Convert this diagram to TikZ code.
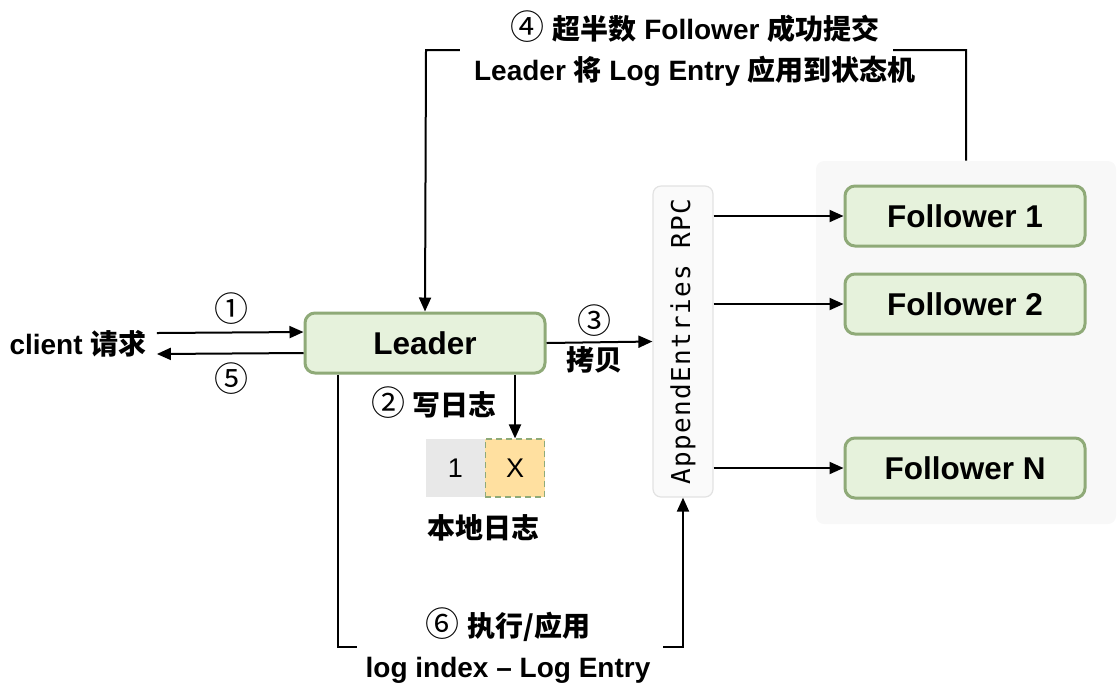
\documentclass[tikz,border=0pt]{standalone}
\usepackage{fontspec}
\usepackage{xcolor}
\usepackage{graphicx}
\usetikzlibrary{arrows.meta}
\setmainfont{Liberation Sans}
\newfontfamily\cjk{Noto Sans CJK SC}
\newfontfamily\codefont[LetterSpace=5]{DejaVu Sans Mono}
\newcommand{\circnum}[1]{{\cjk\mdseries\fontsize{17}{16}\selectfont #1}}

\definecolor{leafgreen}{HTML}{E6F2DC}
\definecolor{leafedge}{HTML}{8FAA78}
\definecolor{panelgray}{HTML}{F8F8F8}
\definecolor{rpcedge}{HTML}{E2E2E2}
\definecolor{rpcfill}{HTML}{FAFAFA}
\definecolor{cellgray}{HTML}{E8E8E8}
\definecolor{cellyellow}{HTML}{FFE0A0}

\tikzset{
  server/.style={draw=leafedge, fill=leafgreen, line width=1.5pt, rounded corners=5pt,
    minimum width=120pt, minimum height=30pt, inner sep=0pt,
    font=\fontsize{15.75}{18}\selectfont\bfseries},
  panel/.style={fill=panelgray, rounded corners=4pt, minimum width=150pt,
    minimum height=181.5pt, inner sep=0pt},
  rpcbox/.style={draw=rpcedge, fill=rpcfill, line width=0.6pt, rounded corners=4pt,
    minimum width=30pt, minimum height=155.5pt, inner sep=0pt},
  cell/.style={minimum width=29.75pt, minimum height=29pt, inner sep=0pt,
    font=\fontsize{13.5}{15}\selectfont},
  stepnote/.style={inner sep=1pt, font=\fontsize{14}{16}\selectfont\bfseries},
  twoline/.style={inner sep=0pt, align=center, font=\fontsize{14}{20.5}\selectfont\bfseries},
  msg/.style={-{Triangle[length=7pt,width=6pt]}, line width=1pt},
}

\begin{document}
\begin{tikzpicture}[x=0.5pt,y=-0.5pt]
\useasboundingbox (0,0) rectangle (1118,698);
% followers
\draw (966,342.5) node[panel](panel) {};
\draw (965,216) node[server](f1) {Follower 1};
\draw (965,304) node[server](f2) {Follower 2};
\draw (965,468) node[server](fn) {Follower N};
% leader and rpc
\draw (425,343) node[server](leader) {Leader};
\draw (683,341.5) node[rpcbox](rpc) {\rotatebox{90}{\codefont\fontsize{13}{15}\selectfont AppendEntries RPC}};
\draw (78,344) node[stepnote,inner sep=5pt](client) {client {\cjk 请求}};
% local log
\draw (455.5,468) node[cell,fill=cellgray](log1) {1};
\draw (515,468) node[cell,fill=cellyellow,draw=leafedge,densely dashed,line width=0.6pt](logx) {X};
\draw (483,528) node[stepnote](loglabel) {\cjk 本地日志};

\draw[msg] ([yshift=5.5pt]client.east) -- ([yshift=5.5pt]leader.west);
\draw[msg] ([yshift=-5pt]leader.west) -- ([yshift=-5pt]client.east);
\draw (231,309) node[stepnote](n1) {\circnum{①}};
\draw (231,379) node[stepnote](n5) {\circnum{⑤}};

\draw[msg] (logx.north |- leader.south) -- (logx.north);
\draw (434,403) node[stepnote](n2) {\circnum{②} {\cjk 写日志}};

\draw[msg] (leader.east) -- (rpc.west);
\draw (594,321) node[stepnote](n3) {\circnum{③}};
\draw (594,360) node[stepnote](copy) {\cjk 拷贝};

\draw[msg] (rpc.east |- f1) -- (f1.west);
\draw[msg] (rpc.east |- f2) -- (f2.west);
\draw[msg] (rpc.east |- fn) -- (fn.west);

% commit path
\coordinate (topbend) at (426,50);
\draw[msg] (panel.north) |- (topbend) -- (leader.north);
\fill[white] (460,45) rectangle (893,55);
\draw (695,48.5) node[twoline](commit) {\circnum{④} {\cjk 超半数} Follower {\cjk 成功提交}\\
  Leader {\cjk 将} Log Entry {\cjk 应用到状态机}};

% apply path
\coordinate (lowbend) at (338,647);
\draw[msg] (lowbend |- leader.south) -- (lowbend) -| (rpc.south);
\fill[white] (357,642) rectangle (663,652);
\draw (508,645.5) node[twoline](apply) {\circnum{⑥} {\cjk 执行/应用}\\ log index -- Log Entry};
\end{tikzpicture}
\end{document}
